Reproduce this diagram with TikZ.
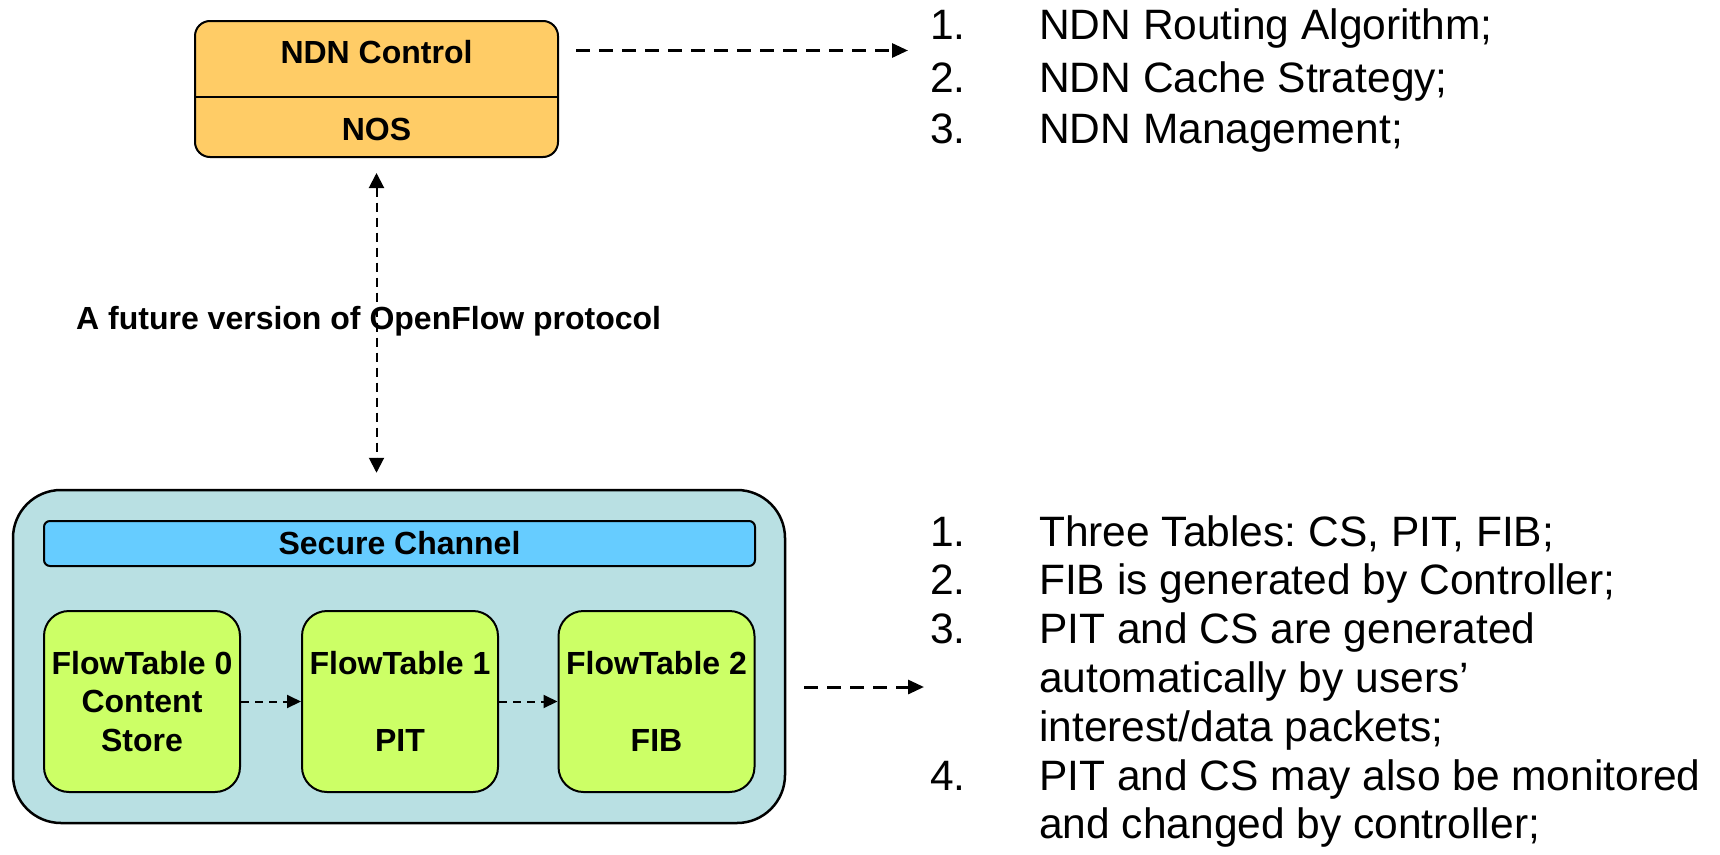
\documentclass[tikz,border=0pt]{standalone}
\usepackage{fontspec}
\setmainfont{Liberation Sans}
\usetikzlibrary{arrows.meta}
\frenchspacing

\definecolor{ctrlfill}{HTML}{FFCC66}
\definecolor{switchfill}{HTML}{B9E0E3}
\definecolor{chanfill}{HTML}{66CCFF}
\definecolor{tablefill}{HTML}{CCFF66}

\begin{document}
\begin{tikzpicture}[x=1pt,y=-1pt,
  boxfont/.style={font=\fontsize{32}{38.4}\selectfont\bfseries},
  listfont/.style={font=\fontsize{42.5}{51}\selectfont, anchor=base west, inner sep=0pt},
  ctrlbox/.style={draw=black, line width=2pt, fill=ctrlfill, rounded corners=15pt,
    minimum width=363pt, minimum height=136pt, inner sep=0pt},
  switchbox/.style={draw=black, line width=2.5pt, fill=switchfill, rounded corners=48pt,
    minimum width=772pt, minimum height=333pt, inner sep=0pt},
  chanbox/.style={draw=black, line width=2pt, fill=chanfill, rounded corners=6pt,
    minimum width=711pt, minimum height=45pt, inner sep=0pt, boxfont},
  tablebox/.style={draw=black, line width=2pt, fill=tablefill, rounded corners=25pt,
    minimum width=196pt, minimum height=181pt, inner sep=0pt, align=center, boxfont},
  bigarrow/.style={line width=3pt, dash pattern=on 14pt off 9pt,
    -{Triangle[length=16pt,width=14pt]}},
  linkarrow/.style={line width=2pt, dash pattern=on 9pt off 6pt,
    {Triangle[length=15pt,width=15pt]}-{Triangle[length=15pt,width=15pt]}},
  steparrow/.style={line width=2pt, dash pattern=on 8pt off 6pt,
    -{Triangle[length=14pt,width=13pt]}}
]
\useasboundingbox (0,0) rectangle (1720,854);

% controller
\node[ctrlbox] (ctrl) at (376.5,89) {};
\draw[line width=2pt] ([yshift=-8pt]ctrl.west) -- ([yshift=-8pt]ctrl.east);
\node[boxfont, anchor=base, inner sep=0pt] (ctrltop) at (376.5,63) {NDN Control};
\node[boxfont, anchor=base, inner sep=0pt] (ctrlnos) at (376.5,140) {NOS};

% switch
\node[switchbox] (switch) at (399,656.5) {};
\node[chanbox] (chan) at (399.5,543.5) {Secure Channel};
\node[tablebox] (ft0) at (142,701.5) {FlowTable 0\\Content\\Store};
\node[tablebox] (ft1) at (400,701.5) {FlowTable 1\\\mbox{}\\PIT};
\node[tablebox] (ft2) at (656.5,701.5) {FlowTable 2\\\mbox{}\\FIB};

\draw[steparrow] (ft0) -- (ft1);
\draw[steparrow] (ft1) -- (ft2);

% protocol link
\draw[linkarrow, shorten <=15pt, shorten >=16pt] (ctrl.south) -- (ctrl.south |- switch.north);
\node[boxfont, anchor=base west, inner sep=0pt] (proto) at (76,329.6) {A future version of OpenFlow protocol};

% pointers to the lists
\coordinate (ctrlnote) at (908,50.5);
\coordinate (switchnote) at (924,687);
\draw[bigarrow, shorten <=17pt] (ctrl.east |- ctrlnote) -- (ctrlnote);
\draw[bigarrow, shorten <=18pt] (switch.east |- switchnote) -- (switchnote);

% controller functions
\node[listfont] (c1n) at (930,39.5) {1.};
\node[listfont] (c1t) at (1039,39.5) {NDN Routing Algorithm;};
\node[listfont] (c2n) at (930,92) {2.};
\node[listfont] (c2t) at (1039,92) {NDN Cache Strategy;};
\node[listfont] (c3n) at (930,143.7) {3.};
\node[listfont] (c3t) at (1039,143.7) {NDN Management;};

% switch notes
\node[listfont] (s1n) at (930,546) {1.};
\node[listfont] (s1t) at (1039,546) {Three Tables: CS, PIT, FIB;};
\node[listfont] (s2n) at (930,594.8) {2.};
\node[listfont] (s2t) at (1039,594.8) {FIB is generated by Controller;};
\node[listfont] (s3n) at (930,643.6) {3.};
\node[listfont] (s3t) at (1039,643.6) {PIT and CS are generated};
\node[listfont] (s3b) at (1039,692.4) {automatically by users’};
\node[listfont] (s3c) at (1039,741.2) {interest/data packets;};
\node[listfont] (s4n) at (930,790) {4.};
\node[listfont] (s4t) at (1039,790) {PIT and CS may also be monitored};
\node[listfont] (s4b) at (1039,838.8) {and changed by controller;};
\end{tikzpicture}
\end{document}
